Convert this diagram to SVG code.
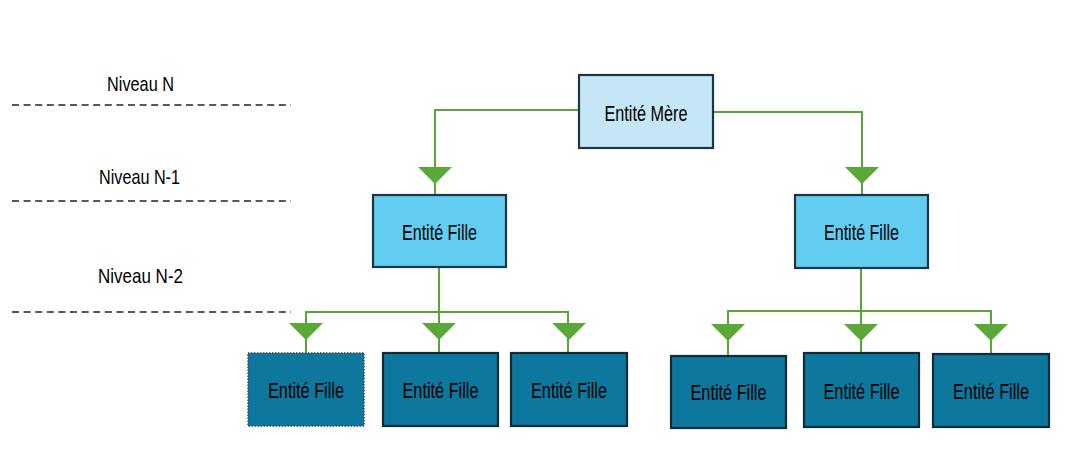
<svg xmlns="http://www.w3.org/2000/svg" width="1071" height="452" viewBox="0 0 1071 452">
<style>
  .lbl { font-family: "Liberation Sans", Arial, sans-serif; font-size: 21px; fill: #000; }
  .txt { font-family: "Liberation Sans", Arial, sans-serif; font-size: 22px; fill: #000; text-anchor: middle; }
  .dash { stroke: #222; stroke-width: 1.6; stroke-dasharray: 7 4.6; fill: none; }
  .conn { stroke: #5AA537; stroke-width: 2; fill: none; }
  .arr { fill: #5AA837; }
  .mere { fill: #C4E6F5; stroke: #1B3746; stroke-width: 2.2; }
  .f1 { fill: #62CDF1; stroke: #1B3746; stroke-width: 2.2; }
  .f2 { fill: #0E779E; stroke: #0F2B38; stroke-width: 2.2; }
  .f2d { fill: #0E779E; stroke: #3A4A52; stroke-width: 1.5; stroke-dasharray: 1.5 1.5; }
</style>
<rect width="1071" height="452" fill="#fff"/>
<g id="levels">
  <text class="lbl" x="107" y="91" textLength="67" lengthAdjust="spacingAndGlyphs">Niveau N</text>
  <text class="lbl" x="99" y="184" textLength="81" lengthAdjust="spacingAndGlyphs">Niveau N-1</text>
  <text class="lbl" x="98" y="283" textLength="85" lengthAdjust="spacingAndGlyphs">Niveau N-2</text>
  <line class="dash" x1="12" y1="105" x2="291" y2="105"/>
  <line class="dash" x1="12" y1="201" x2="291" y2="201"/>
  <line class="dash" x1="12" y1="312" x2="291" y2="312"/>
</g>
<g id="connectors">
  <polyline class="conn" points="579,110 435,110 435,195"/>
  <polyline class="conn" points="713,112 862,112 862,195"/>
  <polygon class="arr" points="418,167 452,167 435,184"/>
  <polygon class="arr" points="845,167 879,167 862,184"/>
  <polyline class="conn" points="439,267 439,353"/>
  <polyline class="conn" points="306,353 306,312 568,312 568,353"/>
  <polygon class="arr" points="289,323 323,323 306,340"/>
  <polygon class="arr" points="422,323 456,323 439,340"/>
  <polygon class="arr" points="552,323 586,323 569,340"/>
  <polyline class="conn" points="861,268 861,353"/>
  <polyline class="conn" points="728,356 728,311 991,311 991,354"/>
  <polygon class="arr" points="711,324 745,324 728,341"/>
  <polygon class="arr" points="844,324 878,324 861,341"/>
  <polygon class="arr" points="974,324 1008,324 991,341"/>
</g>
<g id="mere">
  <rect class="mere" x="579" y="75" width="134" height="73"/>
  <text class="txt" x="646" y="121" textLength="83" lengthAdjust="spacingAndGlyphs">Entité Mère</text>
</g>
<g id="fille-n1-left">
  <rect class="f1" x="373" y="195" width="133" height="72"/>
  <text class="txt" x="439.5" y="240" textLength="75" lengthAdjust="spacingAndGlyphs">Entité Fille</text>
</g>
<g id="fille-n1-right">
  <rect class="f1" x="795" y="195" width="133" height="73"/>
  <text class="txt" x="861.5" y="240" textLength="75" lengthAdjust="spacingAndGlyphs">Entité Fille</text>
</g>
<g id="fille-n2-1">
  <rect class="f2d" x="248" y="353" width="116" height="73"/>
  <text class="txt" x="306" y="398" textLength="76" lengthAdjust="spacingAndGlyphs">Entité Fille</text>
</g>
<g id="fille-n2-2">
  <rect class="f2" x="383" y="353" width="115" height="73"/>
  <text class="txt" x="440.5" y="398" textLength="76" lengthAdjust="spacingAndGlyphs">Entité Fille</text>
</g>
<g id="fille-n2-3">
  <rect class="f2" x="511" y="353" width="116" height="73"/>
  <text class="txt" x="569" y="398" textLength="76" lengthAdjust="spacingAndGlyphs">Entité Fille</text>
</g>
<g id="fille-n2-4">
  <rect class="f2" x="671" y="356" width="115" height="72"/>
  <text class="txt" x="728.5" y="400" textLength="76" lengthAdjust="spacingAndGlyphs">Entité Fille</text>
</g>
<g id="fille-n2-5">
  <rect class="f2" x="804" y="353" width="115" height="74"/>
  <text class="txt" x="861.5" y="399" textLength="76" lengthAdjust="spacingAndGlyphs">Entité Fille</text>
</g>
<g id="fille-n2-6">
  <rect class="f2" x="933" y="354" width="116" height="73"/>
  <text class="txt" x="991" y="399" textLength="76" lengthAdjust="spacingAndGlyphs">Entité Fille</text>
</g>
</svg>
